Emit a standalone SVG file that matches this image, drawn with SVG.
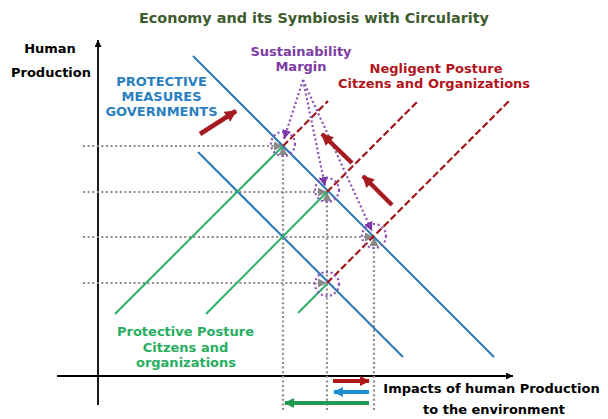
<svg xmlns="http://www.w3.org/2000/svg" width="608" height="419" viewBox="0 0 608 419">
<style>
.t{font-family:"DejaVu Sans",Verdana,sans-serif;font-weight:bold;font-size:13px;text-anchor:middle}
.gd{fill:none;stroke:#8c8c8c;stroke-width:2.2;stroke-dasharray:2 2.6}
.pd{fill:none;stroke:#8a4fb5;stroke-width:2.2;stroke-dasharray:2 2.6}
.bl{stroke:#2b78b4;stroke-width:2;fill:none}
.gr{stroke:#2db06a;stroke-width:2;fill:none}
.rd{stroke:#a3181d;stroke-width:2.2;stroke-dasharray:7 3;fill:none}
.ax{stroke:#000;stroke-width:1.8;fill:none}
.ra{stroke:#a51b1f;stroke-width:4.5;fill:none}
</style>
<defs>
<marker id="mg" viewBox="0 0 10 10" refX="10" refY="5" markerWidth="9" markerHeight="9" markerUnits="userSpaceOnUse" orient="auto"><path d="M0,0 L10,5 L0,10 z" fill="#8a8a8a"/></marker>
<marker id="mp" viewBox="0 0 10 10" refX="10" refY="5" markerWidth="9" markerHeight="9" markerUnits="userSpaceOnUse" orient="auto"><path d="M0,0 L10,5 L0,10 z" fill="#7a35a8"/></marker>
<marker id="mk" viewBox="0 0 10 10" refX="10" refY="5" markerWidth="7" markerHeight="7" markerUnits="userSpaceOnUse" orient="auto"><path d="M0,0 L10,5 L0,10 z" fill="#000"/></marker>
<marker id="mr" viewBox="0 0 10 10" refX="9" refY="5" markerWidth="12" markerHeight="12" markerUnits="userSpaceOnUse" orient="auto"><path d="M0,0 L10,5 L0,10 z" fill="#a51b1f"/></marker>
<marker id="mr2" viewBox="0 0 10 10" refX="9" refY="5" markerWidth="10" markerHeight="10" markerUnits="userSpaceOnUse" orient="auto"><path d="M0,0 L10,5 L0,10 z" fill="#b0181c"/></marker>
<marker id="mb2" viewBox="0 0 10 10" refX="9" refY="5" markerWidth="10" markerHeight="10" markerUnits="userSpaceOnUse" orient="auto"><path d="M0,0 L10,5 L0,10 z" fill="#1e8fd0"/></marker>
<marker id="mg2" viewBox="0 0 10 10" refX="9" refY="5" markerWidth="10" markerHeight="10" markerUnits="userSpaceOnUse" orient="auto"><path d="M0,0 L10,5 L0,10 z" fill="#1f9a4e"/></marker>
</defs>
<rect width="608" height="419" fill="#fff"/>

<text class="t" x="314" y="23" style="font-size:14.4px" fill="#3d5c2e">Economy and its Symbiosis with Circularity</text>

<g id="axes">
<line class="ax" x1="98" y1="405" x2="98" y2="40" marker-end="url(#mk)"/>
<line class="ax" x1="57" y1="376" x2="513" y2="376" marker-end="url(#mk)"/>
</g>

<g id="guides">
<line class="gd" x1="83" y1="146" x2="283" y2="146" marker-end="url(#mg)"/>
<line class="gd" x1="83" y1="192" x2="327" y2="192" marker-end="url(#mg)"/>
<line class="gd" x1="83" y1="237" x2="374" y2="237" marker-end="url(#mg)"/>
<line class="gd" x1="83" y1="283" x2="327" y2="283" marker-end="url(#mg)"/>
<line class="gd" x1="283" y1="410" x2="283" y2="146" marker-end="url(#mg)"/>
<line class="gd" x1="327" y1="410" x2="327" y2="192" marker-end="url(#mg)"/>
<line class="gd" x1="374" y1="410" x2="374" y2="237" marker-end="url(#mg)"/>
</g>

<g id="lines">
<line class="bl" x1="193" y1="56" x2="494" y2="357"/>
<line class="bl" x1="198" y1="152" x2="403" y2="357"/>
<line class="gr" x1="115" y1="314" x2="283" y2="146"/>
<line class="gr" x1="206" y1="314" x2="327" y2="192"/>
<line class="gr" x1="298" y1="313" x2="327" y2="284"/>
<line class="rd" x1="283" y1="146" x2="328" y2="101"/>
<line class="rd" x1="327" y1="192" x2="418" y2="101"/>
<line class="rd" x1="327" y1="283" x2="510" y2="100"/>
</g>

<g id="margins">
<line class="pd" x1="303" y1="80" x2="284" y2="139" marker-end="url(#mp)"/>
<line class="pd" x1="303" y1="80" x2="325" y2="186" marker-end="url(#mp)"/>
<line class="pd" x1="303" y1="80" x2="372" y2="231" marker-end="url(#mp)"/>
<circle class="pd" cx="283" cy="144" r="12"/>
<circle class="pd" cx="327" cy="190" r="12"/>
<circle class="pd" cx="374" cy="236" r="12"/>
<circle class="pd" cx="327" cy="284" r="12"/>
</g>

<g id="shift-arrows">
<line class="ra" x1="200" y1="134" x2="236" y2="111" marker-end="url(#mr)"/>
<line class="ra" x1="352" y1="163" x2="322" y2="134" marker-end="url(#mr)"/>
<line class="ra" x1="392" y1="205" x2="363" y2="176" marker-end="url(#mr)"/>
<line x1="333" y1="381" x2="369" y2="381" stroke="#b0181c" stroke-width="4" marker-end="url(#mr2)"/>
<line x1="369" y1="392" x2="334" y2="392" stroke="#1e8fd0" stroke-width="4" marker-end="url(#mb2)"/>
<line x1="369" y1="403" x2="285" y2="403" stroke="#1f9a4e" stroke-width="4" marker-end="url(#mg2)"/>
</g>

<g id="labels">
<text class="t" x="50" y="53" fill="#000">Human</text>
<text class="t" x="51" y="77" fill="#000">Production</text>
<text class="t" x="161.5" y="86" fill="#2a7fc0">PROTECTIVE</text>
<text class="t" x="161.5" y="101" fill="#2a7fc0">MEASURES</text>
<text class="t" x="161.5" y="116" fill="#2a7fc0">GOVERNMENTS</text>
<text class="t" x="301" y="56" fill="#7d3ca5">Sustainability</text>
<text class="t" x="301" y="71" fill="#7d3ca5">Margin</text>
<text class="t" x="436" y="73" fill="#b3141c">Negligent Posture</text>
<text class="t" x="434" y="88" fill="#b3141c">Citzens and Organizations</text>
<text class="t" x="185.5" y="336" fill="#27ae60">Protective Posture</text>
<text class="t" x="185.5" y="352" fill="#27ae60">Citzens and</text>
<text class="t" x="186" y="367" fill="#27ae60">organizations</text>
<text class="t" x="491.5" y="393" fill="#000">Impacts of human Production</text>
<text class="t" x="494" y="414" fill="#000">to the environment</text>
</g>
</svg>
